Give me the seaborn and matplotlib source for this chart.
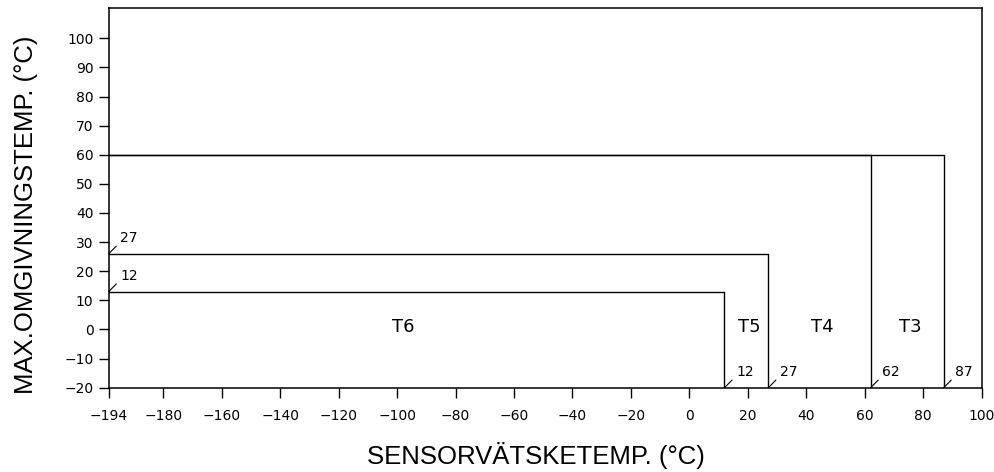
import numpy as np
import pandas as pd
import matplotlib
matplotlib.use("Agg")
import matplotlib.pyplot as plt
import seaborn as sns

# ---- data ----
zones = ["T6", "T5", "T4", "T3"]
sensor_max = [12, 27, 62, 87]          # max sensor-fluid temperature per class
ambient_max = [13, 26, 60, 60]         # drawn height of each class box
zone_label_x = [-98, 20.5, 45.5, 75.5]
zone_label_y = [1, 1, 1, 1]
left_labels = ["27", "12"]
left_label_y = [26, 13]
x_min, x_max = -194, 100
y_min, y_max = -20, 110.3
x_ticks = [-194, -180, -160, -140, -120, -100, -80, -60, -40, -20, 0, 20, 40, 60, 80, 100]
y_ticks = [-20, -10, 0, 10, 20, 30, 40, 50, 60, 70, 80, 90, 100]

# ---- build segments ----
rows = []
seg = 0
for z, xm, h in zip(zones, sensor_max, ambient_max):
    rows += [dict(seg=seg, x=x_min, y=h), dict(seg=seg, x=xm, y=h)]
    seg += 1
    rows += [dict(seg=seg, x=xm, y=y_min), dict(seg=seg, x=xm, y=h)]
    seg += 1
df = pd.DataFrame(rows)

sns.set_theme(style="white")
plt.rcParams["font.family"] = ["DejaVu Sans"]

fig = plt.figure(figsize=(9.95, 4.72), dpi=100)
ax = fig.add_axes([0.1092, 0.1786, 0.8774, 0.8038])

# compressed segment between -194 and -180 (broken axis in original)
k = 18.7 / 14.0
def fwd(v):
    v = np.asarray(v, dtype=float)
    return np.where(v < -180, -180 + (v + 180) * k, v)
def inv(u):
    u = np.asarray(u, dtype=float)
    return np.where(u < -180, -180 + (u + 180) / k, u)
ax.set_xscale("function", functions=(fwd, inv))

sns.lineplot(data=df, x="x", y="y", units="seg", estimator=None, sort=False,
             color="black", linewidth=1.0, ax=ax, legend=False)

ax.set_xlim(x_min, x_max)
ax.set_ylim(y_min, y_max)
ax.set_xticks(x_ticks)
ax.set_xticklabels([str(t).replace("-", "\u2212") for t in x_ticks])
ax.set_yticks(y_ticks)
ax.set_yticklabels([str(t).replace("-", "\u2212") for t in y_ticks])
ax.tick_params(axis="both", direction="out", length=7, width=1.0, color="black",
               labelsize=10, labelcolor="black", pad=4, bottom=True, left=True,
               top=False, right=False)
ax.tick_params(axis="x", pad=8)
ax.minorticks_off()
for s in ax.spines.values():
    s.set_color("black")
    s.set_linewidth(1.1)
    s.set_visible(True)

# zone labels
for z, xx, yy in zip(zones, zone_label_x, zone_label_y):
    ax.text(xx, yy, z, ha="center", va="center", fontsize=13, color="black")

# bottom value markers
for xm in sensor_max:
    ax.annotate("", xy=(xm, y_min), xytext=(5.5, 5.5), textcoords="offset points",
                arrowprops=dict(arrowstyle="-", lw=0.8, color="black", shrinkA=0, shrinkB=0))
    ax.annotate(str(xm), xy=(xm, y_min), xytext=(8.5, 11.5), textcoords="offset points",
                ha="left", va="center", fontsize=10, color="black")

# left value markers
for lab, yy in zip(left_labels, left_label_y):
    ax.annotate("", xy=(x_min, yy), xytext=(5.5, 5.5), textcoords="offset points",
                arrowprops=dict(arrowstyle="-", lw=0.8, color="black", shrinkA=0, shrinkB=0))
    ax.annotate(lab, xy=(x_min, yy), xytext=(8.5, 11), textcoords="offset points",
                ha="left", va="center", fontsize=10, color="black")

ax.set_xlabel("")
ax.set_ylabel("")
fig.text(0.539, 0.036, "SENSORVÄTSKETEMP. (°C)", ha="center", va="center",
         fontsize=18.5, family=["Liberation Sans", "DejaVu Sans"], color="black")
fig.text(0.026, 0.5445, "MAX.OMGIVNINGSTEMP. (°C)", ha="center", va="center",
         rotation=90, fontsize=18.5, family=["Liberation Sans", "DejaVu Sans"], color="black")

fig.savefig("out.png", dpi=100, facecolor="white")
